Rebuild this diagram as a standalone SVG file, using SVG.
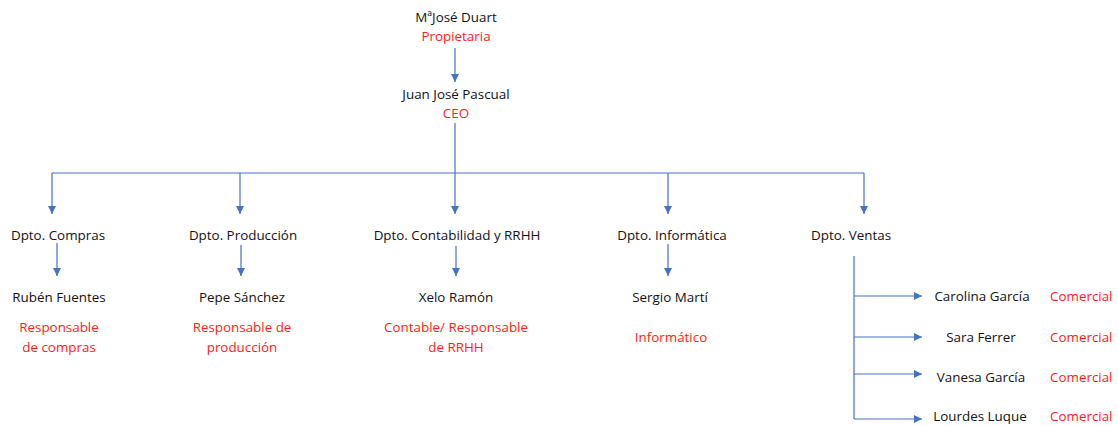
<svg xmlns="http://www.w3.org/2000/svg" width="1118" height="426" viewBox="0 0 1118 426">
  <defs>
    <marker id="arrow" viewBox="0 0 10 10" refX="10" refY="5" markerWidth="8" markerHeight="8" markerUnits="userSpaceOnUse" orient="auto">
      <path d="M0,0 L10,5 L0,10 Z" fill="#4472C4"/>
    </marker>
    <style>
      .name { font-family: "Open Sans", "Liberation Sans", sans-serif; font-size: 13.4px; fill: #111111; text-anchor: middle; }
      .role { font-family: "Open Sans", "Liberation Sans", sans-serif; font-size: 13.4px; fill: #FF1A1A; text-anchor: middle; }
      .roleL { font-family: "Open Sans", "Liberation Sans", sans-serif; font-size: 13.4px; fill: #FF1A1A; }
      .link { stroke: #4472C4; stroke-width: 1.2; fill: none; }
      .arr { marker-end: url(#arrow); }
    </style>
  </defs>
  <rect width="1118" height="426" fill="#ffffff"/>

  <!-- connectors -->
  <g id="connectors">
    <line class="link arr" x1="455" y1="48" x2="455" y2="82"/>
    <line class="link" x1="455" y1="123" x2="455" y2="173"/>
    <line class="link" x1="52" y1="173" x2="864" y2="173"/>
    <line class="link arr" x1="52" y1="173" x2="52" y2="214"/>
    <line class="link arr" x1="240" y1="173" x2="240" y2="214"/>
    <line class="link arr" x1="455" y1="173" x2="455" y2="214"/>
    <line class="link arr" x1="668" y1="173" x2="668" y2="214"/>
    <line class="link arr" x1="864" y1="173" x2="864" y2="214"/>
    <line class="link arr" x1="57" y1="243" x2="57" y2="276"/>
    <line class="link arr" x1="241" y1="245" x2="241" y2="276"/>
    <line class="link arr" x1="456" y1="246" x2="456" y2="276"/>
    <line class="link arr" x1="668" y1="244" x2="668" y2="276"/>
    <line class="link" x1="854" y1="256" x2="854" y2="419"/>
    <line class="link arr" x1="854" y1="296" x2="922" y2="296"/>
    <line class="link arr" x1="854" y1="337" x2="922" y2="337"/>
    <line class="link arr" x1="854" y1="374" x2="922" y2="374"/>
    <line class="link arr" x1="854" y1="419" x2="922" y2="419"/>
  </g>

  <g id="owner">
    <text class="name" x="456" y="22">MªJosé Duart</text>
    <text class="role" x="456" y="41">Propietaria</text>
  </g>
  <g id="ceo">
    <text class="name" x="456" y="99">Juan José Pascual</text>
    <text class="role" x="456" y="118">CEO</text>
  </g>

  <g id="dpto-compras"><text class="name" x="58" y="240">Dpto. Compras</text></g>
  <g id="dpto-produccion"><text class="name" x="243" y="240">Dpto. Producción</text></g>
  <g id="dpto-contabilidad"><text class="name" x="457" y="240">Dpto. Contabilidad y RRHH</text></g>
  <g id="dpto-informatica"><text class="name" x="672" y="240">Dpto. Informática</text></g>
  <g id="dpto-ventas"><text class="name" x="851" y="240">Dpto. Ventas</text></g>

  <g id="ruben">
    <text class="name" x="59" y="302">Rubén Fuentes</text>
    <text class="role" x="59" y="332">Responsable</text>
    <text class="role" x="59" y="352">de compras</text>
  </g>
  <g id="pepe">
    <text class="name" x="242" y="302">Pepe Sánchez</text>
    <text class="role" x="242" y="332">Responsable de</text>
    <text class="role" x="242" y="352">producción</text>
  </g>
  <g id="xelo">
    <text class="name" x="456" y="302">Xelo Ramón</text>
    <text class="role" x="456" y="332">Contable/ Responsable</text>
    <text class="role" x="456" y="352">de RRHH</text>
  </g>
  <g id="sergio">
    <text class="name" x="670" y="302">Sergio Martí</text>
    <text class="role" x="671" y="342">Informático</text>
  </g>

  <g id="carolina">
    <text class="name" x="982" y="301">Carolina García</text>
    <text class="roleL" x="1050" y="301">Comercial</text>
  </g>
  <g id="sara">
    <text class="name" x="981" y="342">Sara Ferrer</text>
    <text class="roleL" x="1050" y="342">Comercial</text>
  </g>
  <g id="vanesa">
    <text class="name" x="981" y="382">Vanesa García</text>
    <text class="roleL" x="1050" y="382">Comercial</text>
  </g>
  <g id="lourdes">
    <text class="name" x="980" y="421">Lourdes Luque</text>
    <text class="roleL" x="1050" y="421">Comercial</text>
  </g>
</svg>
